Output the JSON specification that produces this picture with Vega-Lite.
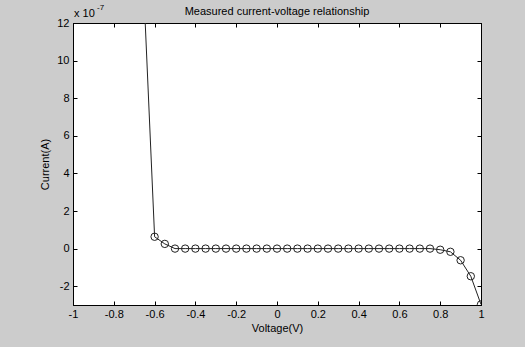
{
  "$schema": "https://vega.github.io/schema/vega-lite/v6.json",
  "autosize": "none",
  "width": 408,
  "height": 282,
  "padding": {"left": 73, "top": 23, "right": 44, "bottom": 42},
  "background": "#cccccc",
  "title": {"text": "Measured current-voltage relationship", "font": "Liberation Sans", "fontSize": 11, "fontWeight": "normal", "color": "#000000", "offset": -16},
  "config": {
    "view": {"fill": "white", "stroke": "black", "strokeWidth": 1},
    "axis": {"labelFont": "Liberation Sans", "labelFontSize": 11, "labelColor": "#000000", "titleFont": "Liberation Sans", "titleFontSize": 11, "titleFontWeight": "normal", "titleColor": "#000000", "domainColor": "#000000", "tickColor": "#000000", "grid": false}
  },
  "datasets": {
    "iv": [
      {"voltage": -0.65, "current": 13},
      {"voltage": -0.6, "current": 0.63},
      {"voltage": -0.55, "current": 0.25},
      {"voltage": -0.5, "current": 0},
      {"voltage": -0.45, "current": 0},
      {"voltage": -0.4, "current": 0},
      {"voltage": -0.35, "current": 0},
      {"voltage": -0.3, "current": 0},
      {"voltage": -0.25, "current": 0},
      {"voltage": -0.2, "current": 0},
      {"voltage": -0.15, "current": 0},
      {"voltage": -0.1, "current": 0},
      {"voltage": -0.05, "current": 0},
      {"voltage": 0, "current": 0},
      {"voltage": 0.05, "current": 0},
      {"voltage": 0.1, "current": 0},
      {"voltage": 0.15, "current": 0},
      {"voltage": 0.2, "current": 0},
      {"voltage": 0.25, "current": 0},
      {"voltage": 0.3, "current": 0},
      {"voltage": 0.35, "current": 0},
      {"voltage": 0.4, "current": 0},
      {"voltage": 0.45, "current": 0},
      {"voltage": 0.5, "current": 0},
      {"voltage": 0.55, "current": 0},
      {"voltage": 0.6, "current": 0},
      {"voltage": 0.65, "current": 0},
      {"voltage": 0.7, "current": 0},
      {"voltage": 0.75, "current": 0},
      {"voltage": 0.8, "current": -0.06},
      {"voltage": 0.85, "current": -0.17},
      {"voltage": 0.9, "current": -0.62},
      {"voltage": 0.95, "current": -1.47},
      {"voltage": 1.0, "current": -2.97}
    ],
    "notes": [
      {"voltage": -1, "current": 12, "text": "x 10", "kind": "base"},
      {"voltage": -1, "current": 12, "text": "-7", "kind": "exp"}
    ]
  },
  "resolve": {"axis": {"x": "independent", "y": "independent"}},
  "layer": [
    {
      "data": {"name": "iv"},
      "mark": {"type": "line", "color": "#222222", "strokeWidth": 1, "clip": true,
        "point": {"filled": false, "shape": "circle", "size": 55, "color": "#222222", "strokeWidth": 1}},
      "encoding": {
        "x": {"field": "voltage", "type": "quantitative",
          "scale": {"domain": [-1, 1], "nice": false, "zero": false},
          "axis": {"orient": "bottom", "title": "Voltage(V)", "values": [-1, -0.8, -0.6, -0.4, -0.2, 0, 0.2, 0.4, 0.6, 0.8, 1], "labelExpr": "'' + datum.value", "tickSize": -4, "labelPadding": 7, "titlePadding": 3, "labelFlush": false}},
        "y": {"field": "current", "type": "quantitative",
          "scale": {"domain": [-3, 12], "nice": false, "zero": false},
          "axis": {"orient": "left", "title": "Current(A)", "values": [-2, 0, 2, 4, 6, 8, 10, 12], "labelExpr": "'' + datum.value", "tickSize": -4, "labelPadding": 8, "titlePadding": 6, "labelFlush": false}}
      }
    },
    {
      "data": {"name": "iv"},
      "mark": {"type": "point", "opacity": 0},
      "encoding": {
        "x": {"field": "voltage", "type": "quantitative",
          "axis": {"orient": "top", "title": null, "labels": false, "values": [-1, -0.8, -0.6, -0.4, -0.2, 0, 0.2, 0.4, 0.6, 0.8, 1], "tickSize": -4}},
        "y": {"field": "current", "type": "quantitative",
          "axis": {"orient": "right", "title": null, "labels": false, "values": [-2, 0, 2, 4, 6, 8, 10, 12], "tickSize": -4}}
      }
    },
    {
      "data": {"name": "notes"},
      "transform": [{"filter": "datum.kind === 'base'"}],
      "mark": {"type": "text", "align": "left", "baseline": "alphabetic", "dx": 1, "dy": -6, "font": "Liberation Sans", "fontSize": 11, "color": "#000000", "clip": false},
      "encoding": {
        "x": {"field": "voltage", "type": "quantitative", "axis": null},
        "y": {"field": "current", "type": "quantitative", "axis": null},
        "text": {"field": "text"}
      }
    },
    {
      "data": {"name": "notes"},
      "transform": [{"filter": "datum.kind === 'exp'"}],
      "mark": {"type": "text", "align": "left", "baseline": "alphabetic", "dx": 24, "dy": -13, "font": "Liberation Sans", "fontSize": 8, "color": "#000000", "clip": false},
      "encoding": {
        "x": {"field": "voltage", "type": "quantitative", "axis": null},
        "y": {"field": "current", "type": "quantitative", "axis": null},
        "text": {"field": "text"}
      }
    }
  ]
}
